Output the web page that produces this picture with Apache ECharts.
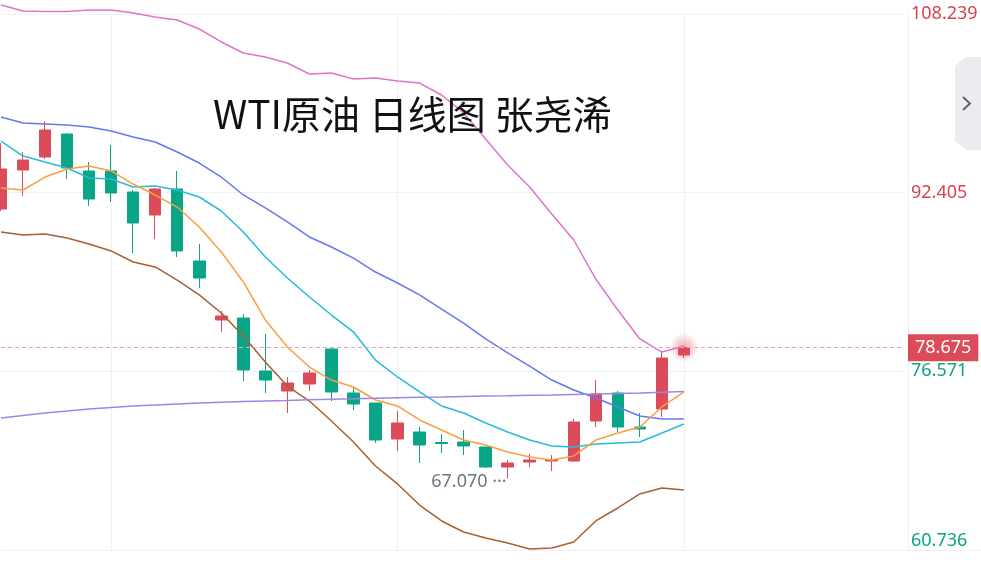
<!DOCTYPE html>
<html lang="zh">
<head>
<meta charset="UTF-8">
<title>WTI原油 日线图</title>
<script src="https://cdn.jsdelivr.net/npm/echarts@6/dist/echarts.min.js"></script>
<style>
    html, body { margin: 0; padding: 0; background: #fff; }
    #main { width: 981px; height: 565px; }
</style>
</head>
<body>
<div id="main"></div>
<script>
// 42 slots on the x axis: 32 daily candles, the rest left empty on the right
var slots = Array.from({ length: 42 }, function (_, i) { return 'D' + (i + 1) })

// price axis ticks and markers
var priceTicks = [60.736, 76.571, 92.405, 108.239]
var lastPrice = 78.675
var lowMark = 67.070
var lowIndex = 23
var gridDays = [5, 18, 31] // vertical grid lines

// [open, close, low, high]
var candles = [
    [90.957, 94.502, 90.780, 96.806],
    [94.413, 95.300, 92.109, 96.009],
    [95.565, 97.958, 95.388, 98.756],
    [97.604, 94.591, 93.616, 97.690],
    [94.325, 91.843, 91.223, 95.122],
    [94.325, 92.375, 91.577, 96.629],
    [92.464, 89.716, 87.057, 92.641],
    [90.425, 92.729, 88.298, 92.818],
    [92.729, 87.235, 86.703, 94.325],
    [86.348, 84.842, 83.955, 87.855],
    [81.119, 81.474, 80.056, 81.917],
    [81.297, 76.688, 75.713, 81.651],
    [76.600, 75.802, 74.650, 79.879],
    [74.827, 75.536, 72.877, 76.068],
    [75.447, 76.422, 74.827, 76.688],
    [78.549, 74.738, 73.941, 78.638],
    [74.650, 73.675, 73.143, 75.093],
    [73.763, 70.484, 70.218, 73.763],
    [70.573, 71.991, 69.509, 73.054],
    [71.193, 70.041, 68.446, 71.636],
    [70.263, 70.174, 69.332, 71.016],
    [70.307, 69.953, 69.155, 71.371],
    [69.864, 68.091, 68.003, 69.864],
    [68.091, 68.446, 67.070, 68.712],
    [68.535, 68.712, 68.091, 69.244],
    [68.623, 68.756, 67.737, 69.155],
    [68.623, 72.080, 68.535, 72.345],
    [72.168, 74.562, 71.636, 75.802],
    [74.650, 71.636, 71.193, 74.827],
    [71.636, 71.459, 70.750, 72.877],
    [73.232, 77.752, 72.523, 78.372],
    [78.018, 78.675, 77.752, 78.815]
]

// bollinger upper / lower
var bollUpper = [109.04, 108.51, 108.46, 108.46, 108.59, 108.59, 108.33, 107.97, 107.71, 106.91, 105.76, 104.78, 104.43, 103.90, 102.92, 103.01,
    102.48, 102.57, 102.30, 102.12, 101.06, 99.47, 97.16, 94.86, 92.91, 90.51, 88.21, 84.75, 82.01, 79.44, 78.28, 78.82]
var bollLower = [88.92, 88.65, 88.74, 88.39, 87.86, 87.24, 86.26, 85.82, 84.66, 83.34, 81.74, 79.70, 77.40, 75.27, 73.94, 72.17,
    70.31, 68.18, 66.59, 64.72, 63.31, 62.33, 61.80, 61.36, 60.82, 60.91, 61.44, 63.31, 64.46, 65.70, 66.23, 66.05]
// moving averages
var maBlue = [99.11, 98.58, 98.49, 98.40, 98.22, 97.87, 97.34, 96.90, 96.01, 95.03, 93.79, 92.20, 91.05, 89.81, 88.48, 87.59,
    86.61, 85.37, 84.40, 83.34, 82.09, 80.85, 79.44, 78.20, 77.04, 75.80, 74.92, 74.21, 73.41, 72.61, 72.35, 72.35]
var maCyan = [96.98, 95.65, 95.12, 94.59, 93.70, 93.62, 92.91, 93.00, 92.64, 92.02, 90.78, 88.92, 86.70, 84.84, 83.16, 81.56,
    80.06, 77.57, 76.07, 74.74, 73.50, 72.88, 71.99, 71.19, 70.48, 69.95, 69.86, 70.13, 70.22, 70.31, 71.11, 71.90]
var maOrange = [92.82, 92.64, 93.79, 94.50, 94.77, 94.33, 93.17, 92.20, 91.13, 89.36, 87.15, 84.49, 81.12, 78.73, 76.95, 75.80,
    75.18, 74.03, 73.50, 72.26, 71.37, 70.48, 70.04, 69.42, 68.98, 68.71, 69.07, 70.48, 71.11, 71.64, 73.41, 74.74]
var maPurple = [72.43, 72.66, 72.88, 73.05, 73.23, 73.37, 73.50, 73.59, 73.68, 73.76, 73.83, 73.89, 73.94, 73.99, 74.05, 74.10,
    74.14, 74.19, 74.23, 74.27, 74.30, 74.34, 74.38, 74.41, 74.45, 74.48, 74.52, 74.56, 74.61, 74.65, 74.71, 74.78]

var upColor = '#dc4b5a'
var downColor = '#0aa587'

function maLine(name, data, color, extra) {
    return Object.assign({
        type: 'line',
        name: name,
        data: data,
        symbol: 'none',
        clip: false,
        silent: true,
        lineStyle: { color: color, width: 1.5 },
        itemStyle: { color: color }
    }, extra || {})
}

var mCharts = echarts.init(document.getElementById('main'))

var option = {
    animation: false,
    textStyle: { fontFamily: 'Noto Sans' },
    title: {
        text: 'WTI原油 日线图 张尧浠',
        left: 213,
        top: 95,
        padding: 0,
        textStyle: { fontSize: 39, fontWeight: 'normal', color: '#111', fontFamily: 'Noto Sans CJK SC' }
    },
    // first candle sits on the left edge, so no boundary gap
    grid: { left: 1, right: 76.8, top: 14, bottom: 15 },
    xAxis: {
        type: 'category',
        data: slots,
        boundaryGap: false,
        axisLine: { show: false },
        axisTick: { show: false },
        axisLabel: { show: false },
        splitLine: { show: false }
    },
    yAxis: {
        type: 'value',
        position: 'right',
        offset: 3.8,
        min: priceTicks[0],
        max: priceTicks[3],
        interval: (priceTicks[3] - priceTicks[0]) / 3,
        axisLine: { show: true, lineStyle: { color: '#eceef2' } },
        axisTick: { show: false },
        splitLine: { lineStyle: { color: '#eff0f4' } },
        axisLabel: {
            margin: 3,
            fontSize: 18,
            verticalAlignMinLabel: 'bottom',
            formatter: function (v) {
                // pick the closest tick label
                var best = priceTicks[0]
                priceTicks.forEach(function (t) {
                    if (Math.abs(t - v) < Math.abs(best - v)) best = t
                })
                return best.toFixed(3)
            },
            color: function (v) {
                return parseFloat(v) > lastPrice ? '#d9434f' : downColor
            }
        }
    },
    graphic: [
        // right side collapse tab
        {
            type: 'polygon',
            silent: true,
            shape: { points: [[981, 57], [966, 57], [955, 66], [955, 141], [967, 150], [981, 150]] },
            style: { fill: '#ececf0' }
        },
        {
            type: 'polyline',
            silent: true,
            shape: { points: [[963, 97], [970, 103.5], [963, 110]] },
            style: { stroke: '#5d6270', lineWidth: 2, fill: null }
        },
        {
            type: 'line',
            silent: true,
            shape: { x1: 904, y1: 550.5, x2: 981, y2: 550.5 },
            style: { stroke: '#eff0f4', lineWidth: 1 }
        }
    ],
    series: [
        {
            type: 'scatter',
            data: [[slots[candles.length - 1], lastPrice]],
            symbolSize: 30,
            z: 1,
            silent: true,
            itemStyle: {
                color: {
                    type: 'radial', x: 0.5, y: 0.5, r: 0.5,
                    colorStops: [
                        { offset: 0, color: 'rgba(220,75,90,0.55)' },
                        { offset: 0.5, color: 'rgba(220,75,90,0.3)' },
                        { offset: 1, color: 'rgba(220,75,90,0)' }
                    ]
                }
            }
        },
        {
            type: 'candlestick',
            data: candles,
            barWidth: 12,
            clip: false,
            silent: true,
            itemStyle: {
                color: upColor,
                color0: downColor,
                borderColor: upColor,
                borderColor0: downColor,
                borderWidth: 1
            },
            markLine: {
                symbol: 'none',
                silent: true,
                data: [{ yAxis: lastPrice, lineStyle: { color: '#f0a2aa', type: [4, 3], width: 1 } }],
                lineStyle: { color: '#f0a2aa', type: [4, 3], width: 1 },
                label: {
                    position: 'end',
                    distance: 3.8,
                    formatter: lastPrice.toFixed(3),
                    color: '#fff',
                    fontSize: 18,
                    backgroundColor: upColor,
                    padding: [5, 7, 4, 7]
                }
            },
            markPoint: {
                symbol: 'circle',
                symbolSize: 2,
                silent: true,
                itemStyle: { color: 'rgba(0,0,0,0)' },
                data: [{ coord: [slots[lowIndex], lowMark] }],
                label: {
                    show: true,
                    position: 'left',
                    distance: 0,
                    offset: [0, 3],
                    formatter: lowMark.toFixed(3) + ' ···',
                    color: '#6f7482',
                    fontSize: 18
                }
            }
        },
        maLine('boll-up', bollUpper, '#de74cb'),
        maLine('boll-down', bollLower, '#a5612f'),
        maLine('ma-blue', maBlue, '#6677ee'),
        maLine('ma-cyan', maCyan, '#25bcd9'),
        maLine('ma-orange', maOrange, '#fa9e3e'),
        maLine('ma-purple', maPurple, '#9f84e6', {
            markLine: {
                z: 1,
                symbol: 'none',
                silent: true,
                label: { show: false },
                lineStyle: { color: '#eff0f4', type: 'solid', width: 1 },
                data: gridDays.map(function (d) { return { xAxis: slots[d] } })
            }
        })
    ]
}

mCharts.setOption(option)
</script>
</body>
</html>
